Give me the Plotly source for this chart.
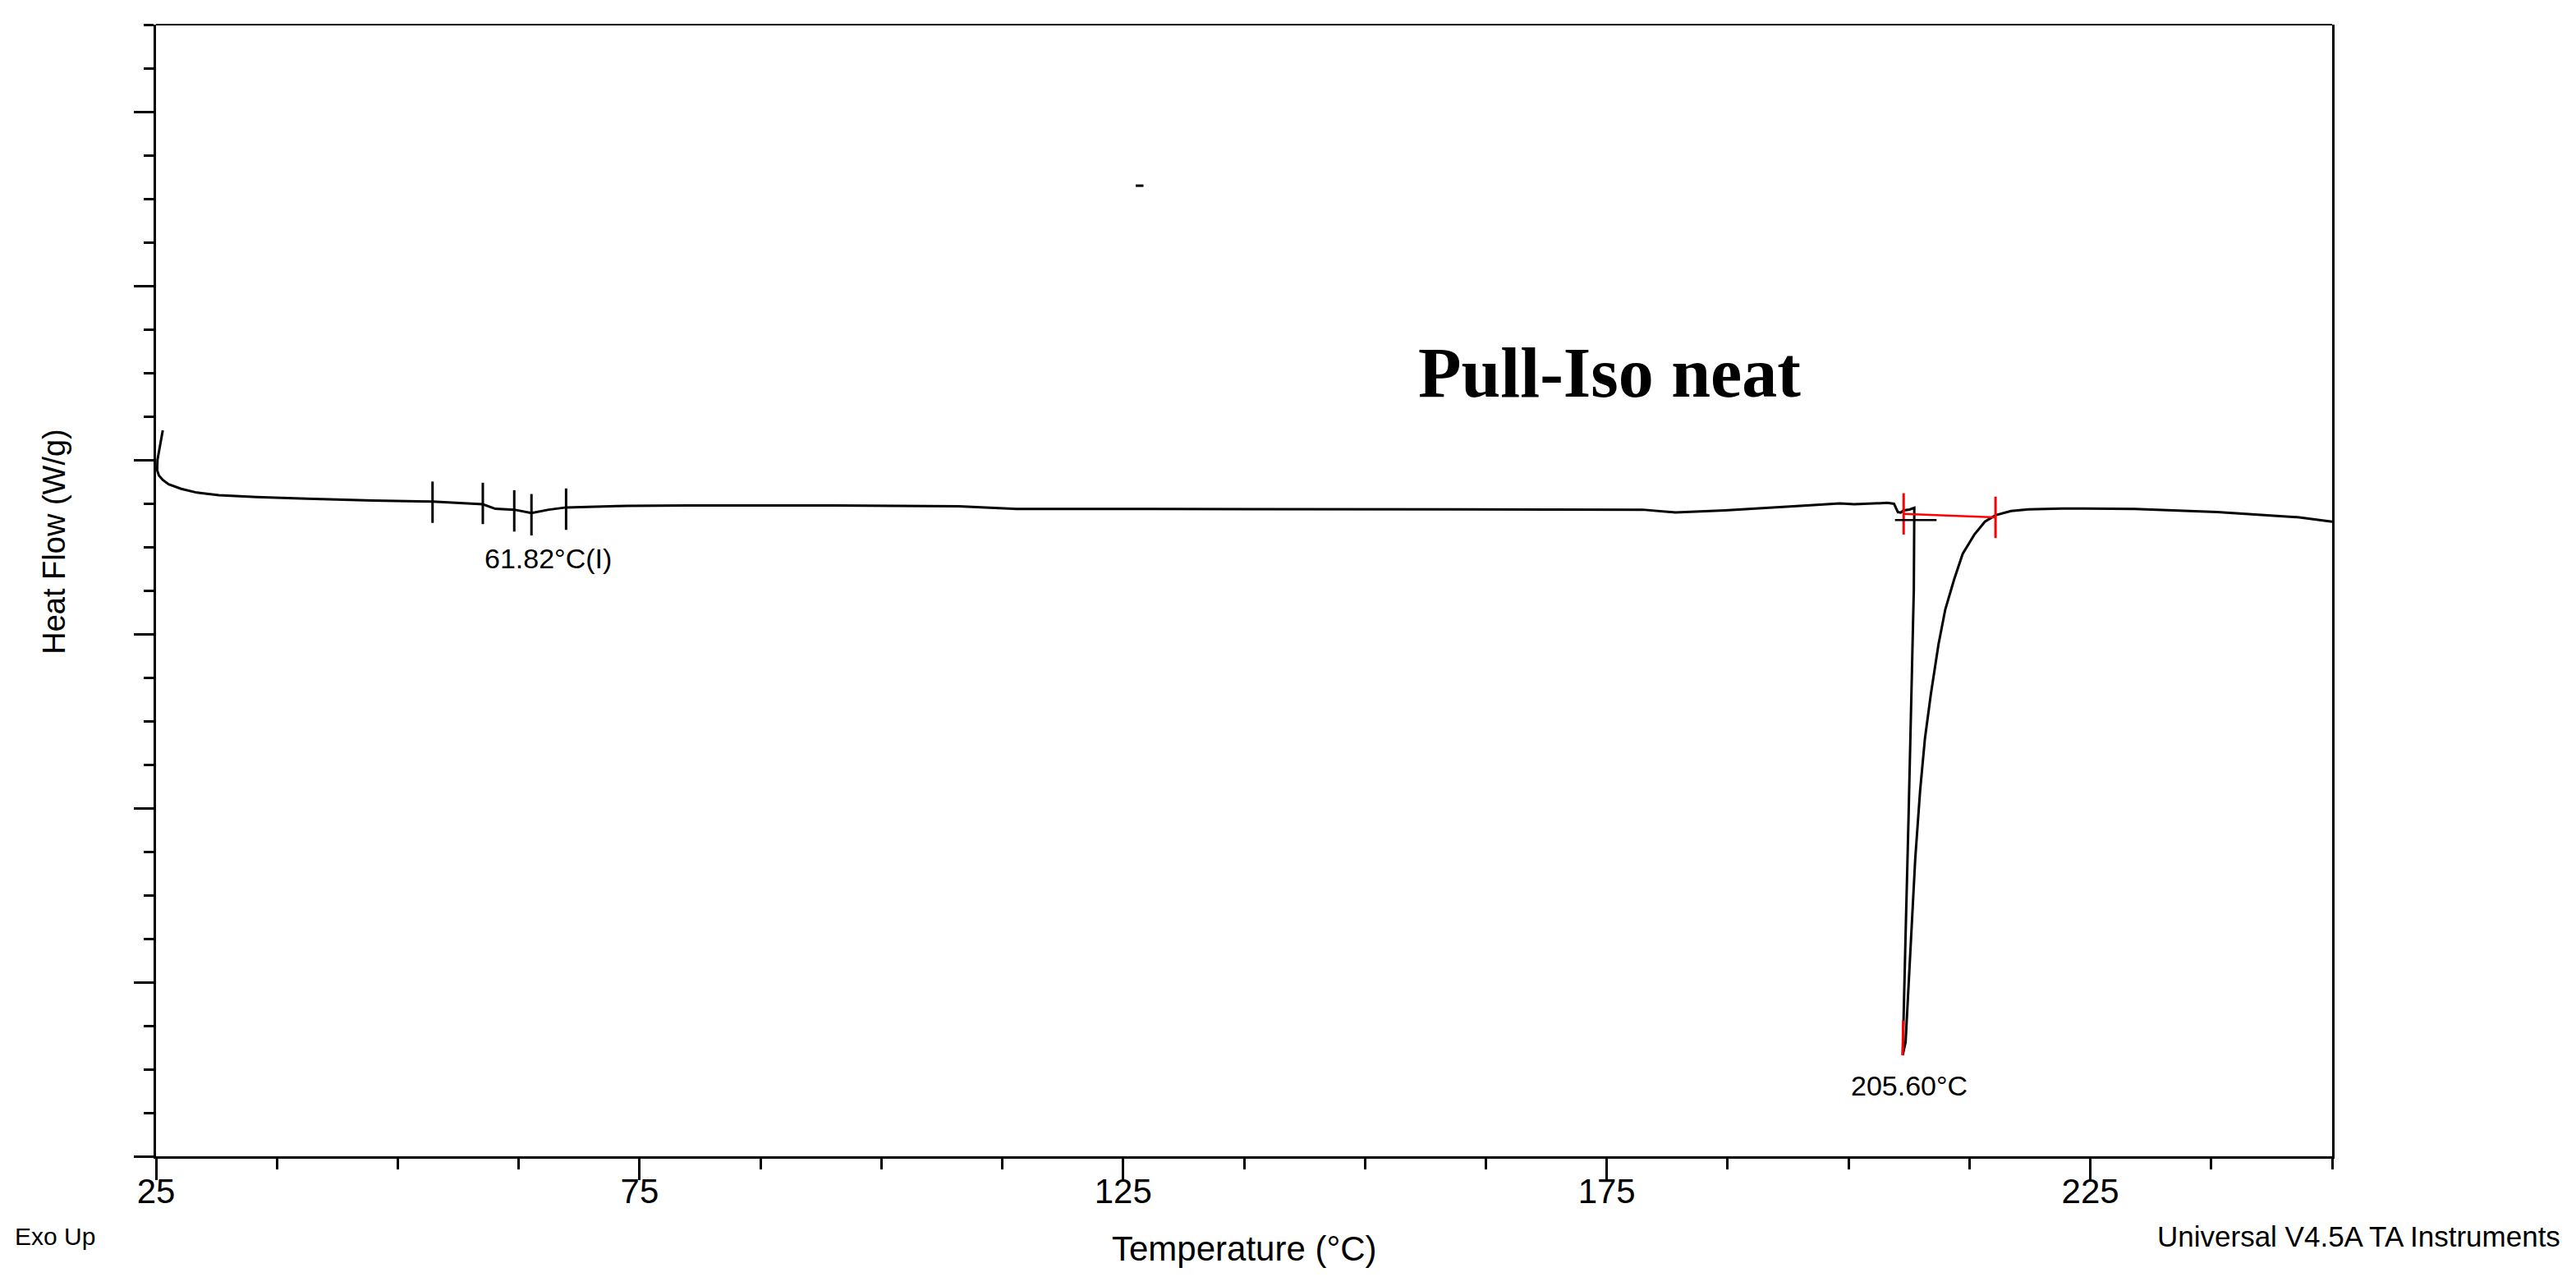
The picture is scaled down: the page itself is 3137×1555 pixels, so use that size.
import plotly.graph_objects as go

# DSC heat flow curve, Pull-Iso neat
temperature = [25.70, 25.15, 25.12, 25.30, 25.70, 26.30, 27.60, 29.22, 31.50, 35.40,
               40.59, 47.42, 53.59, 57.49, 58.79, 60.09, 62.04, 63.82, 65.61, 67.40,
               72.69, 80.0, 95.0, 108.0, 112.0, 114.0, 128.0, 145.0, 162.0, 178.7,
               182.1, 187.2, 195.7, 199.1, 200.6, 204.0, 204.7, 205.1, 205.4, 205.7,
               206.3, 206.8, 206.75, 206.5, 206.2, 205.9, 205.6, 205.9, 206.5, 206.9,
               207.4, 207.9, 208.5, 209.3, 210.0, 210.9, 211.8, 213.0, 214.1, 215.2,
               216.8, 218.6, 222.1, 229.6, 238.1, 246.6, 250.0]
heat_flow = [0.17, 0.0, -0.06, -0.09, -0.115, -0.14, -0.166, -0.188, -0.203, -0.214,
             -0.223, -0.234, -0.239, -0.250, -0.255, -0.281, -0.286, -0.305, -0.286, -0.273,
             -0.265, -0.262, -0.262, -0.266, -0.278, -0.282, -0.282, -0.283, -0.282, -0.286,
             -0.302, -0.290, -0.262, -0.250, -0.255, -0.247, -0.252, -0.300, -0.303, -0.290,
             -0.285, -0.275, -0.745, -1.406, -2.066, -2.726, -3.42, -3.344, -2.726, -2.288,
             -1.90, -1.60, -1.35, -1.06, -0.86, -0.69, -0.54, -0.43, -0.355, -0.318,
             -0.294, -0.284, -0.279, -0.282, -0.300, -0.330, -0.355]

# glass transition analysis marks
tg_marks_T = [53.59, 58.79, 62.04, 63.82, 67.40]
tg_marks_V = [-0.243, -0.250, -0.293, -0.315, -0.283]

# melting analysis: integration limits, peak tip, onset line
melt_limits_T = [205.7, 215.2]
melt_limits_V = [-0.31, -0.33]
peak_tip_T = [205.65, 205.6]
peak_tip_V = [-3.22, -3.42]
onset_line_T = [204.8, 209.1]
onset_line_V = [-0.345, -0.345]
stray_T = [126.3, 127.1]
stray_V = [1.575, 1.575]

sans = "Liberation Sans, Arial, sans-serif"

fig = go.Figure()

fig.add_trace(go.Scatter(x=temperature, y=heat_flow, mode="lines",
                         line=dict(color="black", width=3), hoverinfo="skip"))
fig.add_trace(go.Scatter(x=tg_marks_T, y=tg_marks_V, mode="markers",
                         marker=dict(symbol="line-ns", size=36,
                                     line=dict(color="black", width=3))))
fig.add_trace(go.Scatter(x=melt_limits_T, y=melt_limits_V, mode="lines+markers",
                         line=dict(color="red", width=2.5),
                         marker=dict(symbol="line-ns", size=36,
                                     line=dict(color="red", width=3))))
fig.add_trace(go.Scatter(x=peak_tip_T, y=peak_tip_V, mode="lines",
                         line=dict(color="red", width=3)))
fig.add_trace(go.Scatter(x=onset_line_T, y=onset_line_V, mode="lines",
                         line=dict(color="black", width=2.5)))
fig.add_trace(go.Scatter(x=stray_T, y=stray_V, mode="lines",
                         line=dict(color="black", width=3)))

# labels
fig.add_annotation(x=175.25, y=0.5, text="<b>Pull-Iso neat</b>", showarrow=False,
                   font=dict(family="Liberation Serif, Times New Roman, serif",
                             size=86, color="black"))
fig.add_annotation(x=65.5, y=-0.565, text="61.82°C(I)", showarrow=False,
                   font=dict(family=sans, size=34, color="black"))
fig.add_annotation(x=206.3, y=-3.594, text="205.60°C", showarrow=False,
                   font=dict(family=sans, size=34, color="black"))

fig.add_annotation(xref="paper", yref="paper", x=0.5, y=-0.0814, xanchor="center",
                   yanchor="middle", text="Temperature (°C)", showarrow=False,
                   font=dict(family=sans, size=42, color="black"))
fig.add_annotation(xref="paper", yref="paper", x=-0.0468, y=0.543, xanchor="center",
                   yanchor="middle", text="Heat Flow (W/g)", textangle=-90,
                   showarrow=False, font=dict(family=sans, size=38, color="black"))
fig.add_annotation(xref="paper", yref="paper", x=-0.0657, y=-0.0708,
                   xanchor="left", yanchor="middle", text="Exo Up", showarrow=False,
                   font=dict(family=sans, size=30, color="black"))
fig.add_annotation(xref="paper", yref="paper", x=1.1057, y=-0.0708,
                   xanchor="right", yanchor="middle",
                   text="Universal V4.5A TA Instruments",
                   showarrow=False, font=dict(family=sans, size=35, color="black"))

# thin top frame
fig.add_shape(type="line", xref="paper", yref="paper", x0=0, x1=1, y0=1, y1=1,
              line=dict(color="black", width=2))

fig.update_xaxes(range=[25, 250], tick0=25, dtick=50, ticks="outside", ticklen=26,
                 tickwidth=3, tickcolor="black", showline=True, linewidth=3,
                 linecolor="black", showgrid=False, zeroline=False,
                 ticklabelstandoff=-22,
                 tickfont=dict(family=sans, size=42, color="black"),
                 minor=dict(tick0=25, dtick=12.5, ticks="outside", ticklen=13,
                            tickwidth=3, tickcolor="black", showgrid=False))
fig.update_yaxes(range=[-4, 2.5], tick0=-4, dtick=1, ticks="outside", ticklen=24,
                 tickwidth=3, tickcolor="black", showline=True, linewidth=3,
                 linecolor="black", mirror=True, showgrid=False, zeroline=False,
                 showticklabels=False,
                 minor=dict(tick0=-4, dtick=0.25, ticks="outside", ticklen=12,
                            tickwidth=3, tickcolor="black", showgrid=False))

# page body adds an 8px offset, so the figure is sized/margined to compensate
fig.update_layout(width=3129, height=1547, showlegend=False,
                  paper_bgcolor="white", plot_bgcolor="white",
                  margin=dict(l=182, r=297, t=22, b=147))

fig.write_html("out.html")
